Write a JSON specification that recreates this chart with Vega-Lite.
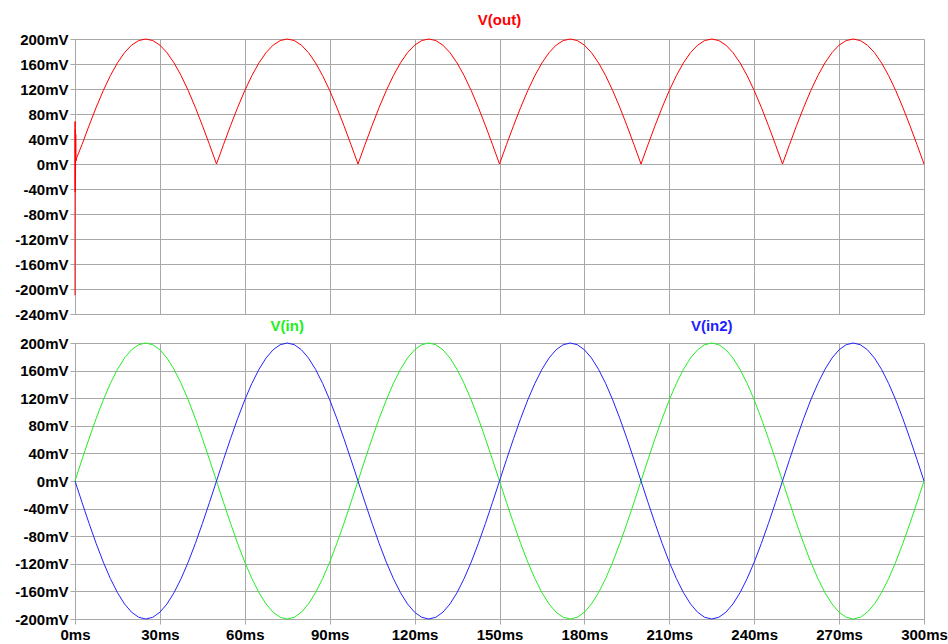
{
  "$schema": "https://vega.github.io/schema/vega-lite/v6.json",
  "background": "white",
  "padding": {"left": 5, "top": 12, "right": 5, "bottom": 5},
  "spacing": 29,
  "bounds": "flush",
  "config": {
    "view": {"stroke": "#c8c8c8", "strokeWidth": 1},
    "axis": {"grid": true, "gridColor": "#a8a8a8", "gridWidth": 1, "gridOpacity": 1, "domain": false, "tickColor": "#a8a8a8", "tickSize": 5, "labelFont": "Liberation Sans", "labelFontSize": 15, "labelFontWeight": "bold", "labelColor": "#000000", "labelOverlap": false, "labelFlush": false, "labelBound": false, "labelSeparation": 0, "title": null},
    "line": {"strokeWidth": 1}
  },
  "datasets": {
    "outv": [
      {"t":0,"v":-210},{"t":0.03,"v":68},{"t":0.08,"v":-45},{"t":0.13,"v":55},{"t":0.18,"v":-30},{"t":0.25,"v":48},{"t":0.35,"v":5},{"t":0.6,"v":10},
      {"t":2.5,"v":31.3},{"t":5,"v":61.8},{"t":7.5,"v":90.8},{"t":10,"v":117.6},{"t":12.5,"v":141.4},{"t":15,"v":161.8},{"t":17.5,"v":178.2},{"t":20,"v":190.2},{"t":22.5,"v":197.5},{"t":25,"v":200},{"t":27.5,"v":197.5},{"t":30,"v":190.2},{"t":32.5,"v":178.2},{"t":35,"v":161.8},{"t":37.5,"v":141.4},{"t":40,"v":117.6},{"t":42.5,"v":90.8},{"t":45,"v":61.8},{"t":47.5,"v":31.3},{"t":50,"v":0},
      {"t":52.5,"v":31.3},{"t":55,"v":61.8},{"t":57.5,"v":90.8},{"t":60,"v":117.6},{"t":62.5,"v":141.4},{"t":65,"v":161.8},{"t":67.5,"v":178.2},{"t":70,"v":190.2},{"t":72.5,"v":197.5},{"t":75,"v":200},{"t":77.5,"v":197.5},{"t":80,"v":190.2},{"t":82.5,"v":178.2},{"t":85,"v":161.8},{"t":87.5,"v":141.4},{"t":90,"v":117.6},{"t":92.5,"v":90.8},{"t":95,"v":61.8},{"t":97.5,"v":31.3},{"t":100,"v":0},
      {"t":102.5,"v":31.3},{"t":105,"v":61.8},{"t":107.5,"v":90.8},{"t":110,"v":117.6},{"t":112.5,"v":141.4},{"t":115,"v":161.8},{"t":117.5,"v":178.2},{"t":120,"v":190.2},{"t":122.5,"v":197.5},{"t":125,"v":200},{"t":127.5,"v":197.5},{"t":130,"v":190.2},{"t":132.5,"v":178.2},{"t":135,"v":161.8},{"t":137.5,"v":141.4},{"t":140,"v":117.6},{"t":142.5,"v":90.8},{"t":145,"v":61.8},{"t":147.5,"v":31.3},{"t":150,"v":0},
      {"t":152.5,"v":31.3},{"t":155,"v":61.8},{"t":157.5,"v":90.8},{"t":160,"v":117.6},{"t":162.5,"v":141.4},{"t":165,"v":161.8},{"t":167.5,"v":178.2},{"t":170,"v":190.2},{"t":172.5,"v":197.5},{"t":175,"v":200},{"t":177.5,"v":197.5},{"t":180,"v":190.2},{"t":182.5,"v":178.2},{"t":185,"v":161.8},{"t":187.5,"v":141.4},{"t":190,"v":117.6},{"t":192.5,"v":90.8},{"t":195,"v":61.8},{"t":197.5,"v":31.3},{"t":200,"v":0},
      {"t":202.5,"v":31.3},{"t":205,"v":61.8},{"t":207.5,"v":90.8},{"t":210,"v":117.6},{"t":212.5,"v":141.4},{"t":215,"v":161.8},{"t":217.5,"v":178.2},{"t":220,"v":190.2},{"t":222.5,"v":197.5},{"t":225,"v":200},{"t":227.5,"v":197.5},{"t":230,"v":190.2},{"t":232.5,"v":178.2},{"t":235,"v":161.8},{"t":237.5,"v":141.4},{"t":240,"v":117.6},{"t":242.5,"v":90.8},{"t":245,"v":61.8},{"t":247.5,"v":31.3},{"t":250,"v":0},
      {"t":252.5,"v":31.3},{"t":255,"v":61.8},{"t":257.5,"v":90.8},{"t":260,"v":117.6},{"t":262.5,"v":141.4},{"t":265,"v":161.8},{"t":267.5,"v":178.2},{"t":270,"v":190.2},{"t":272.5,"v":197.5},{"t":275,"v":200},{"t":277.5,"v":197.5},{"t":280,"v":190.2},{"t":282.5,"v":178.2},{"t":285,"v":161.8},{"t":287.5,"v":141.4},{"t":290,"v":117.6},{"t":292.5,"v":90.8},{"t":295,"v":61.8},{"t":297.5,"v":31.3},{"t":300,"v":0}
    ],
    "inv": [
      {"t":0,"in":0,"in2":0},{"t":2.5,"in":31.3,"in2":-31.3},{"t":5,"in":61.8,"in2":-61.8},{"t":7.5,"in":90.8,"in2":-90.8},{"t":10,"in":117.6,"in2":-117.6},{"t":12.5,"in":141.4,"in2":-141.4},{"t":15,"in":161.8,"in2":-161.8},{"t":17.5,"in":178.2,"in2":-178.2},{"t":20,"in":190.2,"in2":-190.2},{"t":22.5,"in":197.5,"in2":-197.5},{"t":25,"in":200,"in2":-200},{"t":27.5,"in":197.5,"in2":-197.5},{"t":30,"in":190.2,"in2":-190.2},{"t":32.5,"in":178.2,"in2":-178.2},{"t":35,"in":161.8,"in2":-161.8},{"t":37.5,"in":141.4,"in2":-141.4},{"t":40,"in":117.6,"in2":-117.6},{"t":42.5,"in":90.8,"in2":-90.8},{"t":45,"in":61.8,"in2":-61.8},{"t":47.5,"in":31.3,"in2":-31.3},{"t":50,"in":0,"in2":0},
      {"t":52.5,"in":-31.3,"in2":31.3},{"t":55,"in":-61.8,"in2":61.8},{"t":57.5,"in":-90.8,"in2":90.8},{"t":60,"in":-117.6,"in2":117.6},{"t":62.5,"in":-141.4,"in2":141.4},{"t":65,"in":-161.8,"in2":161.8},{"t":67.5,"in":-178.2,"in2":178.2},{"t":70,"in":-190.2,"in2":190.2},{"t":72.5,"in":-197.5,"in2":197.5},{"t":75,"in":-200,"in2":200},{"t":77.5,"in":-197.5,"in2":197.5},{"t":80,"in":-190.2,"in2":190.2},{"t":82.5,"in":-178.2,"in2":178.2},{"t":85,"in":-161.8,"in2":161.8},{"t":87.5,"in":-141.4,"in2":141.4},{"t":90,"in":-117.6,"in2":117.6},{"t":92.5,"in":-90.8,"in2":90.8},{"t":95,"in":-61.8,"in2":61.8},{"t":97.5,"in":-31.3,"in2":31.3},{"t":100,"in":0,"in2":0},
      {"t":102.5,"in":31.3,"in2":-31.3},{"t":105,"in":61.8,"in2":-61.8},{"t":107.5,"in":90.8,"in2":-90.8},{"t":110,"in":117.6,"in2":-117.6},{"t":112.5,"in":141.4,"in2":-141.4},{"t":115,"in":161.8,"in2":-161.8},{"t":117.5,"in":178.2,"in2":-178.2},{"t":120,"in":190.2,"in2":-190.2},{"t":122.5,"in":197.5,"in2":-197.5},{"t":125,"in":200,"in2":-200},{"t":127.5,"in":197.5,"in2":-197.5},{"t":130,"in":190.2,"in2":-190.2},{"t":132.5,"in":178.2,"in2":-178.2},{"t":135,"in":161.8,"in2":-161.8},{"t":137.5,"in":141.4,"in2":-141.4},{"t":140,"in":117.6,"in2":-117.6},{"t":142.5,"in":90.8,"in2":-90.8},{"t":145,"in":61.8,"in2":-61.8},{"t":147.5,"in":31.3,"in2":-31.3},{"t":150,"in":0,"in2":0},
      {"t":152.5,"in":-31.3,"in2":31.3},{"t":155,"in":-61.8,"in2":61.8},{"t":157.5,"in":-90.8,"in2":90.8},{"t":160,"in":-117.6,"in2":117.6},{"t":162.5,"in":-141.4,"in2":141.4},{"t":165,"in":-161.8,"in2":161.8},{"t":167.5,"in":-178.2,"in2":178.2},{"t":170,"in":-190.2,"in2":190.2},{"t":172.5,"in":-197.5,"in2":197.5},{"t":175,"in":-200,"in2":200},{"t":177.5,"in":-197.5,"in2":197.5},{"t":180,"in":-190.2,"in2":190.2},{"t":182.5,"in":-178.2,"in2":178.2},{"t":185,"in":-161.8,"in2":161.8},{"t":187.5,"in":-141.4,"in2":141.4},{"t":190,"in":-117.6,"in2":117.6},{"t":192.5,"in":-90.8,"in2":90.8},{"t":195,"in":-61.8,"in2":61.8},{"t":197.5,"in":-31.3,"in2":31.3},{"t":200,"in":0,"in2":0},
      {"t":202.5,"in":31.3,"in2":-31.3},{"t":205,"in":61.8,"in2":-61.8},{"t":207.5,"in":90.8,"in2":-90.8},{"t":210,"in":117.6,"in2":-117.6},{"t":212.5,"in":141.4,"in2":-141.4},{"t":215,"in":161.8,"in2":-161.8},{"t":217.5,"in":178.2,"in2":-178.2},{"t":220,"in":190.2,"in2":-190.2},{"t":222.5,"in":197.5,"in2":-197.5},{"t":225,"in":200,"in2":-200},{"t":227.5,"in":197.5,"in2":-197.5},{"t":230,"in":190.2,"in2":-190.2},{"t":232.5,"in":178.2,"in2":-178.2},{"t":235,"in":161.8,"in2":-161.8},{"t":237.5,"in":141.4,"in2":-141.4},{"t":240,"in":117.6,"in2":-117.6},{"t":242.5,"in":90.8,"in2":-90.8},{"t":245,"in":61.8,"in2":-61.8},{"t":247.5,"in":31.3,"in2":-31.3},{"t":250,"in":0,"in2":0},
      {"t":252.5,"in":-31.3,"in2":31.3},{"t":255,"in":-61.8,"in2":61.8},{"t":257.5,"in":-90.8,"in2":90.8},{"t":260,"in":-117.6,"in2":117.6},{"t":262.5,"in":-141.4,"in2":141.4},{"t":265,"in":-161.8,"in2":161.8},{"t":267.5,"in":-178.2,"in2":178.2},{"t":270,"in":-190.2,"in2":190.2},{"t":272.5,"in":-197.5,"in2":197.5},{"t":275,"in":-200,"in2":200},{"t":277.5,"in":-197.5,"in2":197.5},{"t":280,"in":-190.2,"in2":190.2},{"t":282.5,"in":-178.2,"in2":178.2},{"t":285,"in":-161.8,"in2":161.8},{"t":287.5,"in":-141.4,"in2":141.4},{"t":290,"in":-117.6,"in2":117.6},{"t":292.5,"in":-90.8,"in2":90.8},{"t":295,"in":-61.8,"in2":61.8},{"t":297.5,"in":-31.3,"in2":31.3},{"t":300,"in":0,"in2":0}
    ]
  },
  "vconcat": [
    {
      "width": 849,
      "height": 275,
      "layer": [
        {
          "data": {"name": "outv"},
          "mark": {"type": "line", "color": "#ff0000", "strokeWidth": 1},
          "encoding": {
            "x": {"field": "t", "type": "quantitative", "scale": {"domain": [0, 300], "nice": false}, "axis": {"values": [0,30,60,90,120,150,180,210,240,270,300], "labels": false, "ticks": false}},
            "y": {"field": "v", "type": "quantitative", "scale": {"domain": [-240, 200], "nice": false}, "axis": {"values": [-240,-200,-160,-120,-80,-40,0,40,80,120,160,200], "labelExpr": "datum.value + 'mV'", "labelOverlap": false, "minExtent": 69, "maxExtent": 69}}
          }
        },
        {
          "data": {"values": [{}]},
          "mark": {"type": "text", "text": "V(out)", "color": "#ff0000", "font": "Liberation Sans", "fontWeight": "bold", "fontSize": 15, "baseline": "middle", "align": "center"},
          "encoding": {
            "x": {"datum": 150, "type": "quantitative", "axis": {"values": [0,30,60,90,120,150,180,210,240,270,300], "labels": false, "ticks": false}},
            "y": {"datum": 230, "type": "quantitative", "axis": {"values": [-240,-200,-160,-120,-80,-40,0,40,80,120,160,200], "labelExpr": "datum.value + 'mV'", "labelOverlap": false, "minExtent": 69, "maxExtent": 69}}
          }
        }
      ]
    },
    {
      "width": 849,
      "height": 276,
      "layer": [
        {
          "data": {"name": "inv"},
          "transform": [{"fold": ["in", "in2"], "as": ["sig", "v"]}],
          "mark": {"type": "line", "strokeWidth": 1},
          "encoding": {
            "x": {"field": "t", "type": "quantitative", "scale": {"domain": [0, 300], "nice": false}, "axis": {"values": [0,30,60,90,120,150,180,210,240,270,300], "labelExpr": "datum.value + 'ms'", "labelPadding": 3, "labelOverlap": false}},
            "y": {"field": "v", "type": "quantitative", "scale": {"domain": [-200, 200], "nice": false}, "axis": {"values": [-200,-160,-120,-80,-40,0,40,80,120,160,200], "labelExpr": "datum.value + 'mV'", "labelOverlap": false, "minExtent": 69, "maxExtent": 69}},
            "color": {"field": "sig", "type": "nominal", "scale": {"domain": ["in", "in2"], "range": ["#22ee22", "#2222ff"]}, "legend": null}
          }
        },
        {
          "data": {"values": [{}]},
          "mark": {"type": "text", "text": "V(in)", "color": "#22ee22", "font": "Liberation Sans", "fontWeight": "bold", "fontSize": 15, "baseline": "middle", "align": "center"},
          "encoding": {
            "x": {"datum": 75, "type": "quantitative", "axis": {"values": [0,30,60,90,120,150,180,210,240,270,300], "labelExpr": "datum.value + 'ms'", "labelPadding": 3, "labelOverlap": false}},
            "y": {"datum": 225, "type": "quantitative", "axis": {"values": [-200,-160,-120,-80,-40,0,40,80,120,160,200], "labelExpr": "datum.value + 'mV'", "labelOverlap": false, "minExtent": 69, "maxExtent": 69}}
          }
        },
        {
          "data": {"values": [{}]},
          "mark": {"type": "text", "text": "V(in2)", "color": "#2222ff", "font": "Liberation Sans", "fontWeight": "bold", "fontSize": 15, "baseline": "middle", "align": "center"},
          "encoding": {
            "x": {"datum": 225, "type": "quantitative", "axis": {"values": [0,30,60,90,120,150,180,210,240,270,300], "labelExpr": "datum.value + 'ms'", "labelPadding": 3, "labelOverlap": false}},
            "y": {"datum": 225, "type": "quantitative", "axis": {"values": [-200,-160,-120,-80,-40,0,40,80,120,160,200], "labelExpr": "datum.value + 'mV'", "labelOverlap": false, "minExtent": 69, "maxExtent": 69}}
          }
        }
      ]
    }
  ]
}
